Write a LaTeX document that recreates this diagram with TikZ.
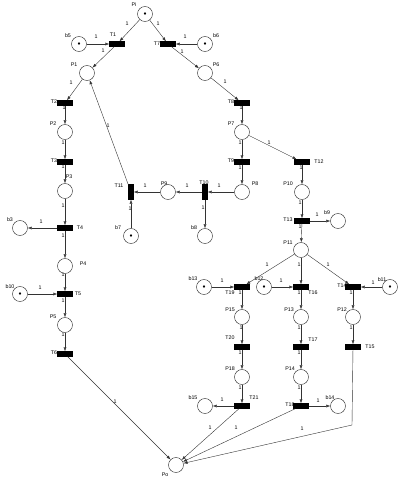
\documentclass[tikz,border=0pt]{standalone}
\usepackage{fontspec}
\setmainfont{Liberation Sans}
\usetikzlibrary{arrows.meta}
\begin{document}
\begin{tikzpicture}[x=1pt,y=-1pt,
  place/.style={circle,draw=black!80,line width=0.45pt,minimum size=15pt,inner sep=0pt},
  tok/.style={place,label={[inner sep=0pt]center:\scalebox{0.6}{$\bullet$}}},
  trans/.style={rectangle,fill=black,draw=black,minimum width=15pt,minimum height=5pt,inner sep=0pt},
  vtrans/.style={rectangle,fill=black,draw=black,minimum width=5pt,minimum height=15pt,inner sep=0pt},
  nm/.style={font=\fontsize{5.3}{6}\selectfont,inner sep=0pt},
  w/.style={font=\fontsize{5.3}{6}\selectfont,inner sep=0pt},
  arc/.style={draw=black!80,line width=0.4pt,-{Latex[length=4pt,width=3pt]}}
]
\useasboundingbox (0,0) rectangle (401,477);
% places
\node[tok] (Pi) at (145,14) {}; \node[nm] (lPi) at (134,5) {Pi};
\node[tok] (b5) at (79,44) {}; \node[nm] (lb5) at (68,36) {b5};
\node[tok] (b6) at (205,44) {}; \node[nm] (lb6) at (216,36) {b6};
\node[place] (P1) at (87,73) {}; \node[nm] (lP1) at (74,65) {P1};
\node[place] (P6) at (205,73) {}; \node[nm] (lP6) at (216,65) {P6};
\node[place] (P2) at (65,132) {}; \node[nm] (lP2) at (53,124) {P2};
\node[place] (P3) at (65,191) {}; \node[nm] (lP3) at (69,177) {P3};
\node[place] (b3) at (20,228) {}; \node[nm] (lb3) at (10,220) {b3};
\node[place] (P9) at (168,192) {}; \node[nm] (lP9) at (164,184) {P9};
\node[tok] (b7) at (131,236) {}; \node[nm] (lb7) at (118,228) {b7};
\node[place] (P8) at (242,192) {}; \node[nm] (lP8) at (255,184) {P8};
\node[place] (b8) at (205,236) {}; \node[nm] (lb8) at (194,228) {b8};
\node[place] (P7) at (242,132) {}; \node[nm] (lP7) at (231,124) {P7};
\node[place] (P10) at (302,192) {}; \node[nm] (lP10) at (288,184) {P10};
\node[place] (b9) at (338,221) {}; \node[nm] (lb9) at (327,213) {b9};
\node[place] (P11) at (301,250) {}; \node[nm] (lP11) at (288,243) {P11};
\node[tok] (b13) at (204,287) {}; \node[nm] (lb13) at (193,279) {b13};
\node[tok] (b12) at (264,287) {}; \node[nm] (lb12) at (259,279) {b12};
\node[tok] (b11) at (390,287) {}; \node[nm] (lb11) at (382,280) {b11};
\node[place] (P15) at (242,317) {}; \node[nm] (lP15) at (230,310) {P15};
\node[place] (P13) at (301,317) {}; \node[nm] (lP13) at (289,310) {P13};
\node[place] (P12) at (353,317) {}; \node[nm] (lP12) at (342,310) {P12};
\node[place] (P18) at (242,377) {}; \node[nm] (lP18) at (230,369) {P18};
\node[place] (P14) at (301,377) {}; \node[nm] (lP14) at (290,369) {P14};
\node[place] (b15) at (205,406) {}; \node[nm] (lb15) at (193,398) {b15};
\node[place] (b14) at (338,406) {}; \node[nm] (lb14) at (330,398) {b14};
\node[place] (Po) at (176,465) {}; \node[nm] (lPo) at (165,475) {Po};
\node[place] (P4) at (65,266) {}; \node[nm] (lP4) at (83,264) {P4};
\node[tok] (b10) at (20,294) {}; \node[nm] (lb10) at (10,287) {b10};
\node[place] (P5) at (65,325) {}; \node[nm] (lP5) at (53,317) {P5};
% transitions
\node[trans] (T1) at (117,44) {}; \node[nm] (lT1) at (113,35) {T1};
\node[trans] (T7) at (168,44) {}; \node[nm] (lT7) at (157,44) {T7};
\node[trans] (T2) at (65,103) {}; \node[nm] (lT2) at (54,102) {T2};
\node[trans] (T8) at (242,103) {}; \node[nm] (lT8) at (231,102) {T8};
\node[trans] (T3) at (65,162) {}; \node[nm] (lT3) at (54,161) {T3};
\node[trans] (T4) at (65,228) {}; \node[nm] (lT4) at (80,228) {T4};
\node[vtrans] (T11) at (131,192) {}; \node[nm] (lT11) at (119,186) {T11};
\node[vtrans] (T10) at (205,192) {}; \node[nm] (lT10) at (204,183) {T10};
\node[trans] (T9) at (242,162) {}; \node[nm] (lT9) at (231,161) {T9};
\node[trans] (T12) at (302,162) {}; \node[nm] (lT12) at (319,162) {T12};
\node[trans] (T13) at (302,221) {}; \node[nm] (lT13) at (288,220) {T13};
\node[trans] (T19) at (242,287) {}; \node[nm] (lT19) at (230,293) {T19};
\node[trans] (T16) at (301,287) {}; \node[nm] (lT16) at (313,293) {T16};
\node[trans] (T14) at (353,287) {}; \node[nm] (lT14) at (342,286) {T14};
\node[trans] (T20) at (242,347) {}; \node[nm] (lT20) at (230,338) {T20};
\node[trans] (T17) at (301,347) {}; \node[nm] (lT17) at (313,340) {T17};
\node[trans] (T15) at (353,347) {}; \node[nm] (lT15) at (370,347) {T15};
\node[trans] (T21) at (242,406) {}; \node[nm] (lT21) at (254,398) {T21};
\node[trans] (T18) at (301,406) {}; \node[nm] (lT18) at (290,405) {T18};
\node[trans] (T5) at (65,294) {}; \node[nm] (lT5) at (78,294) {T5};
\node[trans] (T6) at (65,354) {}; \node[nm] (lT6) at (54,353) {T6};
\coordinate (c15) at (352,425);
% arcs
\draw[arc] (Pi) -- (T1) node[w] at (127,24) {1};
\draw[arc] (Pi) -- (T7) node[w] at (158,24) {1};
\draw[arc] (b5) -- (T1) node[w] at (96,37) {1};
\draw[arc] (b6) -- (T7) node[w] at (185,37) {1};
\draw[arc] (T1) -- (P1) node[w] at (103,51) {1};
\draw[arc] (T7) -- (P6) node[w] at (182,52) {1};
\draw[arc] (P1) -- (T2) node[w] at (71,83) {1};
\draw[arc] (P6) -- (T8) node[w] at (225,82) {1};
\draw[arc] (T2) -- (P2) node[w] at (64,108) {1};
\draw[arc] (T8) -- (P7) node[w] at (241,108) {1};
\draw[arc] (P2) -- (T3) node[w] at (63,143) {1};
\draw[arc] (T3) -- (P3) node[w] at (63,167) {1};
\draw[arc] (P3) -- (T4) node[w] at (63,206) {1};
\draw[arc] (T4) -- (b3) node[w] at (41,222) {1};
\draw[arc] (T4) -- (P4) node[w] at (63,236) {1};
\draw[arc] (P4) -- (T5) node[w] at (63,275) {1};
\draw[arc] (b10) -- (T5) node[w] at (40,288) {1};
\draw[arc] (T5) -- (P5) node[w] at (63,301) {1};
\draw[arc] (P5) -- (T6) node[w] at (63,335) {1};
\draw[arc] (T6) -- (Po) node[w] at (115,402) {1};
\draw[arc] (T11) -- (P1) node[w] at (108,126) {1};
\draw[arc] (P9) -- (T11) node[w] at (145,186) {1};
\draw[arc] (b7) -- (T11) node[w] at (130,209) {1};
\draw[arc] (T10) -- (P9) node[w] at (187,186) {1};
\draw[arc] (P8) -- (T10) node[w] at (219,186) {1};
\draw[arc] (T10) -- (b8) node[w] at (203,208) {1};
\draw[arc] (P7) -- (T9) node[w] at (240,143) {1};
\draw[arc] (P7) -- (T12) node[w] at (269,143) {1};
\draw[arc] (T9) -- (P8) node[w] at (240,168) {1};
\draw[arc] (T12) -- (P10) node[w] at (301,168) {1};
\draw[arc] (P10) -- (T13) node[w] at (300,203) {1};
\draw[arc] (T13) -- (b9) node[w] at (317,215) {1};
\draw[arc] (T13) -- (P11) node[w] at (300,227) {1};
\draw[arc] (P11) -- (T19) node[w] at (267,265) {1};
\draw[arc] (P11) -- (T16) node[w] at (299,265) {1};
\draw[arc] (P11) -- (T14) node[w] at (328,265) {1};
\draw[arc] (b13) -- (T19) node[w] at (222,281) {1};
\draw[arc] (b12) -- (T16) node[w] at (281,281) {1};
\draw[arc] (b11) -- (T14) node[w] at (373,283) {1};
\draw[arc] (T19) -- (P15) node[w] at (240,293) {1};
\draw[arc] (T16) -- (P13) node[w] at (299,293) {1};
\draw[arc] (T14) -- (P12) node[w] at (351,293) {1};
\draw[arc] (P15) -- (T20) node[w] at (241,328) {1};
\draw[arc] (P13) -- (T17) node[w] at (299,328) {1};
\draw[arc] (P12) -- (T15) node[w] at (351,328) {1};
\draw[arc] (T20) -- (P18) node[w] at (240,353) {1};
\draw[arc] (T17) -- (P14) node[w] at (299,353) {1};
\draw[arc] (P18) -- (T21) node[w] at (240,388) {1};
\draw[arc] (P14) -- (T18) node[w] at (299,388) {1};
\draw[arc] (T21) -- (b15) node[w] at (222,400) {1};
\draw[arc] (T18) -- (b14) node[w] at (318,401) {1};
\draw[arc] (T21) -- (Po) node[w] at (210,428) {1};
\draw[arc] (T18) -- (Po) node[w] at (236,428) {1};
\draw[arc] (T15) -- (c15) -- (Po) node[w] at (302,429) {1};
\end{tikzpicture}
\end{document}
